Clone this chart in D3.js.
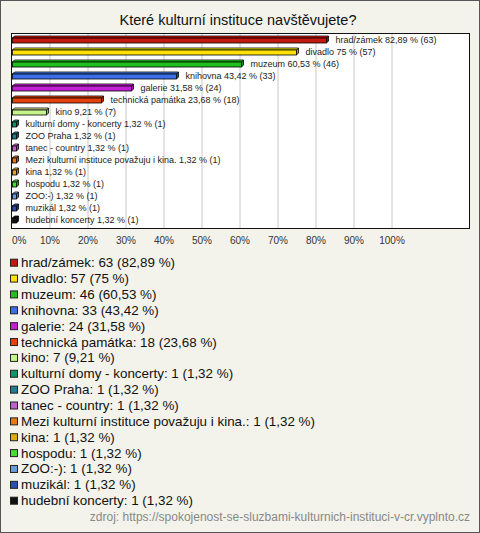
<!DOCTYPE html>
<html><head><meta charset="utf-8">
<script src="https://cdn.jsdelivr.net/npm/d3@7"></script>
<style>
html,body{margin:0;padding:0;background:#f3f3eb;}
svg{display:block;font-family:"Liberation Sans",Arial,sans-serif;}
</style></head>
<body>
<svg id="c" width="480" height="533"></svg>
<script>
const categories = ["hrad/zámek","divadlo","muzeum","knihovna","galerie","technická památka","kino","kulturní domy - koncerty","ZOO Praha","tanec - country","Mezi kulturní instituce považuju i kina.","kina","hospodu","ZOO:-)","muzikál","hudební koncerty"];
const counts = [63,57,46,33,24,18,7,1,1,1,1,1,1,1,1,1];
const percents = [82.89,75,60.53,43.42,31.58,23.68,9.21,1.32,1.32,1.32,1.32,1.32,1.32,1.32,1.32,1.32];
const colors = ["#c4190f","#ffe100","#1fbf1f","#3a6ee8","#c41fd6","#e8400c","#c5f58a","#12936a","#1f7f8f","#c060c8","#e67816","#e0aa10","#44dd33","#6a9ae0","#2b4fb0","#111111"];
const tickValues = [0,10,20,30,40,50,60,70,80,90,100];
const title = "Které kulturní instituce navštěvujete?";
const source = "zdroj: https://spokojenost-se-sluzbami-kulturnich-instituci-v-cr.vyplnto.cz";

const fmt = v => String(v).replace(".", ",");
const data = categories.map((c,i)=>({c, n:counts[i], p:percents[i], col:colors[i]}));

const svg = d3.select("#c");
svg.append("rect").attr("x",0.5).attr("y",0.5).attr("width",479).attr("height",532)
  .attr("fill","#f3f3eb").attr("stroke","#555");

svg.append("text").attr("x",238).attr("y",25).attr("text-anchor","middle")
  .attr("font-size",14.5).attr("fill","#111").text(title);

// plot area
svg.append("rect").attr("x",11.5).attr("y",33.5).attr("width",458).attr("height",195)
  .attr("fill","#fff");

const x = d3.scaleLinear().domain([0,100]).range([11.5,391.5]);
const y = d3.scalePoint().domain(categories).range([40,220]);

// grid
const grid = svg.append("g").attr("transform","translate(0,33.5)")
  .call(d3.axisBottom(x).tickValues(tickValues.slice(1)).tickSize(195).tickFormat(""));
grid.select(".domain").remove();
grid.selectAll("line").attr("stroke","#c8c8c8");

svg.append("rect").attr("x",11.5).attr("y",33.5).attr("width",458).attr("height",195)
  .attr("fill","none").attr("stroke","#111");

// tick labels
const ax = svg.append("g").attr("transform","translate(0,232)")
  .call(d3.axisBottom(x).tickValues(tickValues).tickSize(0).tickFormat(d=>d+"%"));
ax.select(".domain").remove();
ax.selectAll("text").attr("font-size",10).attr("fill","#333")
  .attr("font-family","Liberation Sans,Arial,sans-serif").attr("dy","0.9em")
  .attr("text-anchor",d=>d===0?"start":"middle").attr("x",0);

// bars (3D)
const dep = 2;
const bars = svg.append("g");
data.forEach(d=>{
  const x0 = x(0)+1, x1 = x(d.p), cy = y(d.c);
  const top = cy-2, h = 5;
  const c = d3.color(d.col);
  const g = bars.append("g");
  g.append("path").attr("d",`M${x1},${top}L${x1+dep},${top-dep}L${x1+dep},${top+h-dep}L${x1},${top+h}Z`)
    .attr("fill",c.darker(0.8)).attr("stroke","#000").attr("stroke-width",0.8);
  g.append("path").attr("d",`M${x0},${top}L${x0+dep},${top-dep}L${x1+dep},${top-dep}L${x1},${top}Z`)
    .attr("fill",c.brighter(0.6)).attr("stroke","#000").attr("stroke-width",0.8);
  g.append("rect").attr("x",x0).attr("y",top).attr("width",x1-x0).attr("height",h)
    .attr("fill",d.col).attr("stroke","#000").attr("stroke-width",0.8);
  g.append("text").attr("x",x1+dep+7).attr("y",cy+3).attr("font-size",9).attr("fill","#222")
    .text(`${d.c} ${fmt(d.p)} % (${d.n})`);
});

// legend
const ly = d3.scalePoint().domain(categories).range([262.7,500.7]);
const lg = svg.append("g");
data.forEach(d=>{
  const cy = ly(d.c);
  lg.append("rect").attr("x",10.5).attr("y",cy-3.5).attr("width",7).attr("height",7)
    .attr("fill",d.col).attr("stroke","#222").attr("stroke-width",1);
  lg.append("text").attr("x",21).attr("y",cy+4.5).attr("font-size",13.4).attr("fill","#111")
    .text(`${d.c}: ${d.n} (${fmt(d.p)} %)`);
});

svg.append("text").attr("x",470).attr("y",521).attr("text-anchor","end")
  .attr("font-size",12).attr("fill","#888").text(source);
</script>
</body></html>
